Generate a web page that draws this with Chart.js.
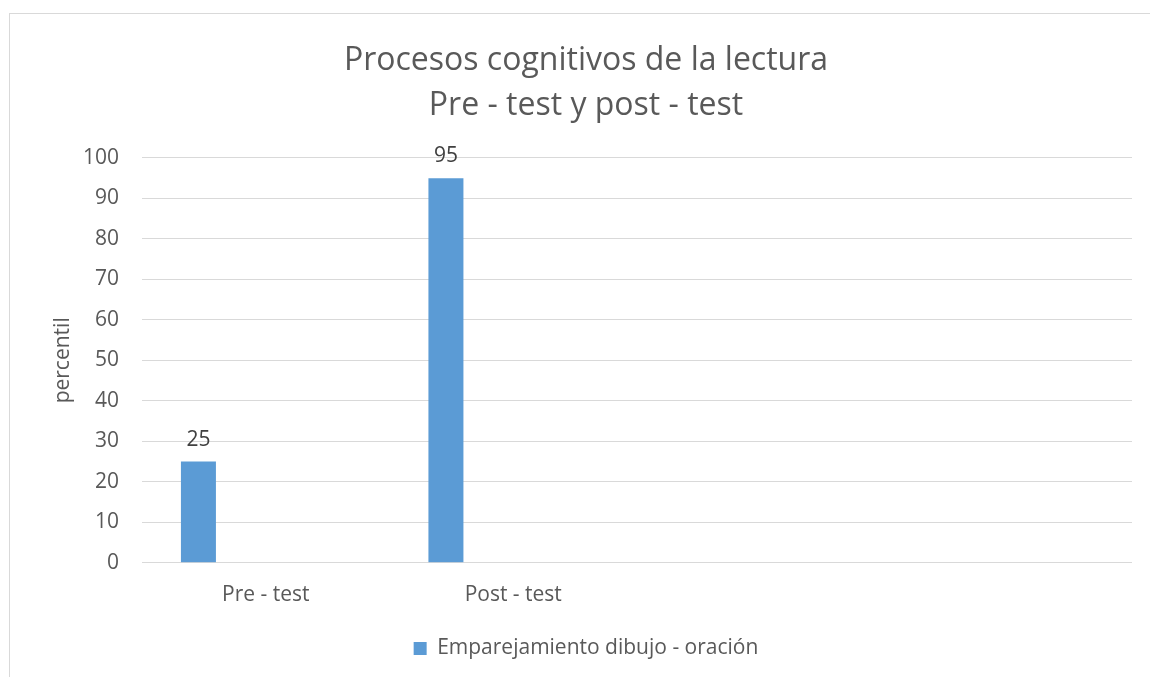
<!DOCTYPE html>
<html>
<head>
<meta charset="utf-8">
<title>Procesos cognitivos de la lectura</title>
<script src="https://cdn.jsdelivr.net/npm/chart.js@4/dist/chart.umd.min.js"></script>
<style>
    html, body { margin: 0; padding: 0; background: #fff; }
    #wrap { position: relative; width: 1150px; height: 677px; overflow: hidden; }
    #frame { position: absolute; left: 9px; top: 13px; right: -2px; bottom: -2px;
             border-left: 1px solid #d9d9d9; border-top: 1px solid #d9d9d9; }
    #chart { position: absolute; left: 0; top: 0; }
</style>
</head>
<body>
<div id="wrap">
    <div id="frame"></div>
    <canvas id="chart" width="1150" height="677"></canvas>
</div>
<script>
// Data
const categories = ['Pre - test', 'Post - test', '', ''];          // x labels (last two empty slots)
const seriesName = 'Emparejamiento dibujo - oración';               // only series in the legend
const seriesValues = [25, 95, null, null];                          // percentil values
const emptySeriesCount = 4;                                         // unused series that keep the bar slot
const yTicks = [0, 10, 20, 30, 40, 50, 60, 70, 80, 90, 100];       // y axis tick labels
const titleLines = ['Procesos cognitivos de la lectura', 'Pre - test y post - test'];
const yTitle = 'percentil';

const textColor = '#595959';
const fontFamily = '"Open Sans", "Liberation Sans", sans-serif';
const smallFont = 21;

/**
 * Draws the value above every bar of the first dataset
 */
const barValueLabels = {
    id: 'barValueLabels',
    afterDatasetsDraw(chart) {
        const ctx = chart.ctx;
        const values = chart.data.datasets[0].data;
        ctx.save();
        ctx.font = smallFont + 'px ' + fontFamily;
        ctx.fillStyle = '#404040';
        ctx.textAlign = 'center';
        ctx.textBaseline = 'alphabetic';
        chart.getDatasetMeta(0).data.forEach((bar, i) => {
            if (values[i] == null) {
                return;
            }
            ctx.fillText(String(values[i]), bar.x, bar.y - 16);
        });
        ctx.restore();
    }
};

// Build the datasets: the real one plus empty ones
var datasets = [{
    label: seriesName,
    data: seriesValues,
    backgroundColor: '#5B9BD5',
    borderWidth: 0,
}];
for (var i = 0; i < emptySeriesCount; ++i) {
    datasets.push({
        label: '',
        data: categories.map(() => null),
        backgroundColor: '#5B9BD5',
    });
}

const config = {
    type: 'bar',
    data: {
        labels: categories,
        datasets: datasets,
    },
    plugins: [barValueLabels],
    options: {
        responsive: false,
        animation: false,
        categoryPercentage: 0.68,
        barPercentage: 1.04,
        layout: {
            padding: { left: 40, right: 18, top: 0, bottom: 8 }
        },
        plugins: {
            tooltip: { enabled: false },
            title: {
                display: true,
                text: titleLines,
                color: textColor,
                font: { family: fontFamily, size: 32, weight: 'normal', lineHeight: 1.42 },
                padding: { top: 38, bottom: 29 },
            },
            legend: {
                position: 'bottom',
                labels: {
                    color: textColor,
                    font: { family: fontFamily, size: smallFont },
                    boxWidth: 13,
                    boxHeight: 13,
                    padding: 10,
                    filter: (item) => item.datasetIndex === 0,
                }
            }
        },
        scales: {
            x: {
                grid: { display: false },
                border: { display: false },
                ticks: {
                    color: textColor,
                    font: { family: fontFamily, size: smallFont },
                    padding: 12,
                    maxRotation: 0,
                },
                afterFit(scale) {
                    scale.height += 8;
                }
            },
            y: {
                min: 0,
                max: 100,
                afterBuildTicks(scale) {
                    scale.ticks = yTicks.map(v => ({ value: v }));
                },
                afterFit(scale) {
                    scale.width = 102;
                },
                grid: { color: '#d9d9d9', lineWidth: 1, drawTicks: false },
                border: { display: false },
                ticks: {
                    color: textColor,
                    font: { family: fontFamily, size: smallFont },
                    padding: 23,
                },
                title: {
                    display: true,
                    text: yTitle,
                    color: textColor,
                    font: { family: fontFamily, size: smallFont },
                    padding: { top: 10, bottom: 0 },
                }
            }
        }
    }
};

new Chart(document.getElementById('chart'), config);
</script>
</body>
</html>
